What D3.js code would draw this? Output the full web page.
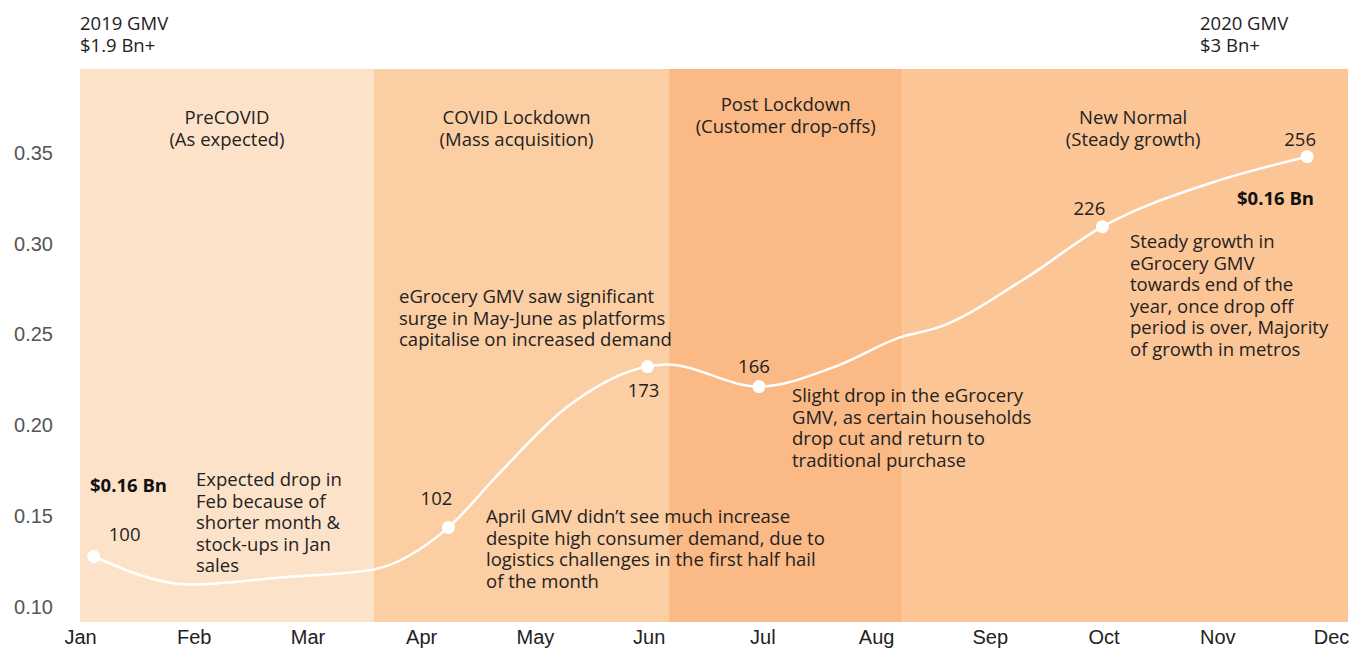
<!DOCTYPE html>
<html lang="en">
<head>
<meta charset="UTF-8">
<title>eGrocery GMV 2020</title>
<script src="https://d3js.org/d3.v7.min.js"></script>
<style>
  body { margin: 0; background: #fff; }
  svg { display: block; font-family: "Open Sans", Lato, sans-serif; }
  .axis text { font-size: 20px; fill: #555; font-weight: 300; }
  .xaxis text { fill: #222; font-weight: 400; }
  .txt { font-size: 18.5px; fill: #222; }
  .bold { font-weight: 700; font-size: 18.5px; fill: #111; }
</style>
</head>
<body>
<div id="chart"></div>
<script>
  const width = 1366;
  const height = 648;

  // month ticks
  const months = ["Jan", "Feb", "Mar", "Apr", "May", "Jun", "Jul", "Aug", "Sep", "Oct", "Nov", "Dec"];
  const yTicks = [0.10, 0.15, 0.20, 0.25, 0.30, 0.35];

  // GMV line (x in month units, Jan = 0)
  const lineX = [0.12, 0.97, 1.76, 2.58, 3.24, 3.69, 4.28, 4.99, 5.16, 5.97, 6.64, 7.23, 7.54, 8.29, 8.99, 9.95, 10.79];
  const lineY = [0.128, 0.1126, 0.1165, 0.1209, 0.144, 0.174, 0.210, 0.2324, 0.2335, 0.2214, 0.2324, 0.2489, 0.2538, 0.280, 0.3093, 0.3335, 0.3478];

  // highlighted points: index into the line + index label
  const markIdx = [0, 4, 7, 9, 14, 16];
  const markLabel = ["100", "102", "173", "166", "226", "256"];

  // phases (start / end in month units)
  const phaseName = ["PreCOVID", "COVID Lockdown", "Post Lockdown", "New Normal"];
  const phaseSub = ["(As expected)", "(Mass acquisition)", "(Customer drop-offs)", "(Steady growth)"];
  const phaseStart = [0, 2.585, 5.18, 7.23];
  const phaseEnd = [2.585, 5.18, 7.23, 11.15];
  const phaseColor = ["#fde2ca", "#fccea3", "#fab985", "#fcc596"];

  const x = d3.scaleLinear().domain([0, 11]).range([80, 1331]);
  const y = d3.scaleLinear().domain([0.092, 0.396]).range([622, 69]);

  const svg = d3.select("#chart").append("svg")
    .attr("width", width)
    .attr("height", height);

  // phase bands
  svg.selectAll(".band")
    .data(phaseName)
    .enter()
    .append("rect")
    .attr("class", "band")
    .attr("x", (d, i) => x(phaseStart[i]))
    .attr("width", (d, i) => x(phaseEnd[i]) - x(phaseStart[i]))
    .attr("y", y.range()[1])
    .attr("height", y.range()[0] - y.range()[1])
    .attr("fill", (d, i) => phaseColor[i]);

  // phase titles
  const titleY = [124, 124, 111, 124];
  const titleShift = [0, -5, 0, 8];
  phaseName.forEach((name, i) => {
    const cx = (x(phaseStart[i]) + x(phaseEnd[i])) / 2 + titleShift[i];
    const t = svg.append("text").attr("class", "txt")
      .attr("text-anchor", "middle")
      .attr("x", cx)
      .attr("y", titleY[i]);
    t.append("tspan").attr("x", cx).text(name);
    t.append("tspan").attr("x", cx).attr("dy", 22).text(phaseSub[i]);
  });

  // axes
  svg.append("g")
    .attr("class", "axis")
    .attr("transform", "translate(53,0)")
    .call(d3.axisLeft(y).tickValues(yTicks).tickFormat(d3.format(".2f")).tickSize(0).tickPadding(0))
    .call(g => g.select(".domain").remove());

  svg.append("g")
    .attr("class", "axis xaxis")
    .attr("transform", "translate(0,622)")
    .call(d3.axisBottom(x).tickValues(d3.range(12)).tickFormat(i => months[i]).tickSize(0).tickPadding(8))
    .call(g => g.select(".domain").remove());

  // line
  const pts = lineX.map((v, i) => [v, lineY[i]]);
  svg.append("path")
    .datum(pts)
    .attr("fill", "none")
    .attr("stroke", "#fff")
    .attr("stroke-width", 2.5)
    .attr("d", d3.line().x(d => x(d[0])).y(d => y(d[1])).curve(d3.curveMonotoneX));

  svg.selectAll(".dot")
    .data(markIdx)
    .enter()
    .append("circle")
    .attr("class", "dot")
    .attr("cx", i => x(lineX[i]))
    .attr("cy", i => y(lineY[i]))
    .attr("r", 6.5)
    .attr("fill", "#fff");

  // point labels (offsets in px from the point)
  const labelDx = [31, -12, -4, -5, -13, -7];
  const labelDy = [-16, -22, 30, -14, -12, -11];
  svg.selectAll(".plab")
    .data(markIdx)
    .enter()
    .append("text")
    .attr("class", "txt plab")
    .attr("text-anchor", "middle")
    .attr("x", (d, k) => x(lineX[d]) + labelDx[k])
    .attr("y", (d, k) => y(lineY[d]) + labelDy[k])
    .text((d, k) => markLabel[k]);

  // multi-line text helper
  function block(x0, y0, lines, cls) {
    const t = svg.append("text").attr("class", cls).attr("x", x0).attr("y", y0);
    lines.forEach((l, i) => t.append("tspan").attr("x", x0).attr("dy", i ? 21.5 : 0).text(l));
  }

  // top-corner totals
  block(80, 30, ["2019 GMV", "$1.9 Bn+"], "txt");
  block(1200, 30, ["2020 GMV", "$3 Bn+"], "txt");

  block(90, 492, ["$0.16 Bn"], "bold");
  block(1237, 205, ["$0.16 Bn"], "bold");

  // annotations
  block(196, 486, ["Expected drop in", "Feb because of", "shorter month &", "stock-ups in Jan", "sales"], "txt");
  block(399, 303, ["eGrocery GMV saw significant", "surge in May-June as platforms", "capitalise on increased demand"], "txt");
  block(486, 523, ["April GMV didn\u2019t see much increase", "despite high consumer demand, due to", "logistics challenges in the first half hail", "of the month"], "txt");
  block(792, 402, ["Slight drop in the eGrocery", "GMV, as certain households", "drop cut and return to", "traditional purchase"], "txt");
  block(1130, 248, ["Steady growth in", "eGrocery GMV", "towards end of the", "year, once drop off", "period is over, Majority", "of growth in metros"], "txt");
</script>
</body>
</html>
